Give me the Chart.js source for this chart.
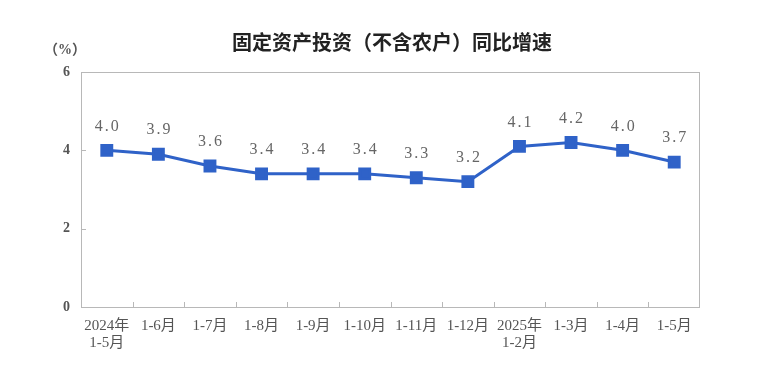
<!DOCTYPE html>
<html><head><meta charset="utf-8">
<script src="https://cdn.jsdelivr.net/npm/chart.js@4"></script>
<style>html,body{margin:0;padding:0;background:#fff;}#wrap{width:770px;height:379px;}</style>
</head><body><div id="wrap"><canvas id="c" width="770" height="379"></canvas></div>
<script>
const categories = [["2024年","1-5月"],"1-6月","1-7月","1-8月","1-9月","1-10月","1-11月","1-12月",["2025年","1-2月"],"1-3月","1-4月","1-5月"];
const growth = [4.0,3.9,3.6,3.4,3.4,3.4,3.3,3.2,4.1,4.2,4.0,3.7];
const yTicks = [0,2,4,6];
const titleText = "固定资产投资（不含农户）同比增速";
const unitText = "（%）";

const SERIF = '"Liberation Serif","Noto Sans CJK SC",serif';
const lineColor = '#2f62c8';

const decor = {
  id:'decor',
  beforeDatasetsDraw(chart){
    const {ctx, chartArea:a, scales:{x,y}} = chart;
    ctx.save();
    ctx.strokeStyle = '#b8b8b8'; ctx.lineWidth = 1;
    ctx.strokeRect(a.left+0.5, a.top+0.5, a.right-a.left-1, a.bottom-a.top);
    ctx.beginPath();
    for(let i=1;i<categories.length;i++){
      const px = Math.round((x.getPixelForValue(i-1)+x.getPixelForValue(i))/2)+0.5;
      ctx.moveTo(px, a.bottom); ctx.lineTo(px, a.bottom-5);
    }
    yTicks.forEach(v=>{ if(v>0 && v<6){ const py=Math.round(y.getPixelForValue(v))+0.5; ctx.moveTo(a.left,py); ctx.lineTo(a.left+5,py);} });
    ctx.stroke();
    ctx.restore();
  },
  afterDatasetsDraw(chart){
    const {ctx} = chart;
    const meta = chart.getDatasetMeta(0);
    ctx.save();
    ctx.font = '16px '+SERIF; ctx.fillStyle='#666'; ctx.textAlign='center'; ctx.textBaseline='middle';
    ctx.letterSpacing = '2px';
    meta.data.forEach((p,i)=>{ ctx.fillText(growth[i].toFixed(1), p.x+1, p.y-24); });
    ctx.restore();
  },
  afterDraw(chart){
    const {ctx} = chart;
    ctx.save();
    ctx.font = 'bold 20px "Noto Sans CJK SC",sans-serif'; ctx.fillStyle='#222'; ctx.textAlign='center'; ctx.textBaseline='middle';
    ctx.fillText(titleText, 392, 42);
    ctx.font = 'bold 14px '+SERIF; ctx.fillStyle='#555';
    ctx.fillText(unitText, 65, 50);
    ctx.restore();
  }
};

new Chart(document.getElementById('c'), {
  type:'line',
  data:{labels:categories, datasets:[{data:growth, borderColor:lineColor, backgroundColor:lineColor, borderWidth:3, pointStyle:'rect', pointRadius:7, pointHoverRadius:7, tension:0}]},
  options:{
    responsive:false, animation:false, devicePixelRatio:1,
    layout:{padding:{top:72,right:70,left:0,bottom:0}},
    plugins:{legend:{display:false}, tooltip:{enabled:false}, title:{display:false}},
    scales:{
      x:{offset:true, grid:{display:false, drawTicks:false}, border:{display:false},
         ticks:{font:{family:SERIF,size:15,lineHeight:1.1}, color:'#555', padding:11, maxRotation:0, autoSkip:false},
         afterFit(s){ s.height = 72; }},
      y:{min:0,max:6, grid:{display:false, drawTicks:false}, border:{display:false},
         ticks:{stepSize:2, font:{family:SERIF,size:14, weight:'bold'}, color:'#555', padding:11, callback:v=>String(v)},
         afterFit(s){ s.width = 81; }}
    }
  },
  plugins:[decor]
});
</script></body></html>
